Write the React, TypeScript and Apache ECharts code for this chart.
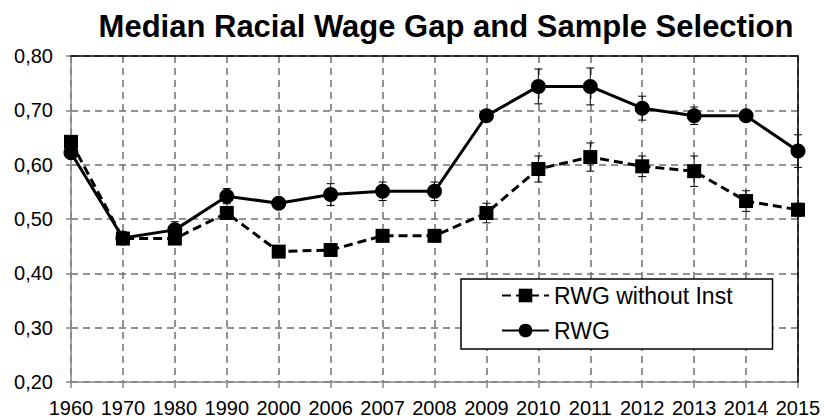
import React, { useEffect, useRef } from "react";
import * as echarts from "echarts";

const TITLE = "Median Racial Wage Gap and Sample Selection";
const years = ["1960", "1970", "1980", "1990", "2000", "2006", "2007", "2008", "2009", "2010", "2011", "2012", "2013", "2014", "2015"];
const rwgNoInst = [0.642, 0.464, 0.464, 0.511, 0.44, 0.443, 0.469, 0.469, 0.511, 0.592, 0.614, 0.597, 0.588, 0.533, 0.517];
const rwgNoInstErr = [0, 0, 0.005, 0.008, 0.005, 0.005, 0.008, 0.008, 0.018, 0.024, 0.026, 0.019, 0.028, 0.019, 0.012];
const rwg = [0.622, 0.465, 0.48, 0.542, 0.529, 0.545, 0.551, 0.551, 0.69, 0.744, 0.744, 0.704, 0.69, 0.69, 0.625];
const rwgErr = [0, 0.005, 0.015, 0.014, 0.008, 0.02, 0.017, 0.017, 0.01, 0.032, 0.034, 0.022, 0.016, 0.01, 0.03];
const yTicks = { min: 0.2, max: 0.8, step: 0.1 };

const FONT = "'Liberation Sans', Arial, sans-serif";

function errorRows(values: number[], errs: number[]) {
  return values.map((v, i) => [i, v - errs[i], v + errs[i]]);
}

// Vertical whisker with short caps at both ends
function renderErrorBar(params: any, api: any) {
  const x = api.value(0);
  const lo = api.coord([x, api.value(1)]);
  const hi = api.coord([x, api.value(2)]);
  const half = 4;
  const style = { stroke: "#000", lineWidth: 1 };
  return {
    type: "group",
    children: [
      { type: "line", shape: { x1: lo[0], y1: lo[1], x2: hi[0], y2: hi[1] }, style },
      { type: "line", shape: { x1: lo[0] - half, y1: lo[1], x2: lo[0] + half, y2: lo[1] }, style },
      { type: "line", shape: { x1: hi[0] - half, y1: hi[1], x2: hi[0] + half, y2: hi[1] }, style },
    ],
  };
}

export default function App() {
  const ref = useRef<HTMLDivElement>(null);

  useEffect(() => {
    if (!ref.current) return;
    const chart = echarts.init(ref.current, null, { renderer: "svg" });
    const gridDash = { color: "#6f6f6f", width: 1.5, type: [7, 5] as any };
    chart.setOption({
      animation: false,
      backgroundColor: "#fff",
      textStyle: { fontFamily: FONT },
      title: {
        text: TITLE,
        left: 441,
        textAlign: "center",
        top: 6,
        textStyle: { fontFamily: FONT, fontSize: 31, fontWeight: "bold", color: "#000" },
      },
      grid: { left: 71, right: 26, top: 56, bottom: 35, containLabel: false },
      legend: {
        data: ["RWG without Inst", "RWG"],
        orient: "vertical",
        left: 461,
        top: 279,
        padding: [5, 40, 7, 40],
        itemGap: 12,
        itemWidth: 47,
        itemHeight: 17,
        borderColor: "#000",
        borderWidth: 1.5,
        backgroundColor: "#fff",
        textStyle: { fontFamily: FONT, fontSize: 23, color: "#000" },
      },
      xAxis: [
        {
          type: "category",
          data: years,
          boundaryGap: false,
          axisLine: { lineStyle: { color: "#868686", width: 1.5 } },
          axisTick: { show: true, length: 6, interval: 0, lineStyle: { color: "#868686", width: 1.5 } },
          axisLabel: { interval: 0, margin: 16, fontSize: 20, fontFamily: FONT, color: "#000" },
          splitLine: { show: true, interval: 0, lineStyle: gridDash },
        },
        {
          type: "category",
          data: years,
          boundaryGap: false,
          position: "top",
          z: 1,
          axisLine: { lineStyle: { color: "#000", width: 1.5 } },
          axisTick: { show: false },
          axisLabel: { show: false },
          splitLine: { show: false },
        },
      ],
      yAxis: [
        {
          type: "value",
          min: yTicks.min,
          max: yTicks.max,
          interval: yTicks.step,
          axisLine: { show: true, lineStyle: { color: "#868686", width: 1.5 } },
          axisTick: { show: true, length: 5, lineStyle: { color: "#868686", width: 1.5 } },
          axisLabel: {
            margin: 18,
            fontSize: 20,
            fontFamily: FONT,
            color: "#000",
            formatter: (v: number) => v.toFixed(2).replace(".", ","),
          },
          splitLine: { show: true, lineStyle: gridDash },
        },
        {
          type: "value",
          min: yTicks.min,
          max: yTicks.max,
          interval: yTicks.step,
          position: "right",
          z: 1,
          axisLine: { show: true, lineStyle: { color: "#000", width: 1.5 } },
          axisTick: { show: false },
          axisLabel: { show: false },
          splitLine: { show: false },
        },
      ],
      series: [
        {
          type: "custom",
          name: "errNoInst",
          renderItem: renderErrorBar,
          data: errorRows(rwgNoInst, rwgNoInstErr),
          encode: { x: 0, y: [1, 2] },
          z: 1,
          silent: true,
        },
        {
          type: "custom",
          name: "errRwg",
          renderItem: renderErrorBar,
          data: errorRows(rwg, rwgErr),
          encode: { x: 0, y: [1, 2] },
          z: 1,
          silent: true,
        },
        {
          type: "line",
          name: "RWG without Inst",
          data: rwgNoInst,
          symbol: "rect",
          symbolSize: 14,
          color: "#000",
          lineStyle: { color: "#000", width: 3, type: [9, 5] as any },
          itemStyle: { color: "#000" },
          z: 3,
        },
        {
          type: "line",
          name: "RWG",
          data: rwg,
          symbol: "circle",
          symbolSize: 15,
          color: "#000",
          lineStyle: { color: "#000", width: 3, type: "solid" },
          itemStyle: { color: "#000" },
          z: 3,
        },
      ],
    });
    return () => chart.dispose();
  }, []);

  return <div ref={ref} style={{ width: 824, height: 418, position: "absolute", left: 0, top: 0 }} />;
}
